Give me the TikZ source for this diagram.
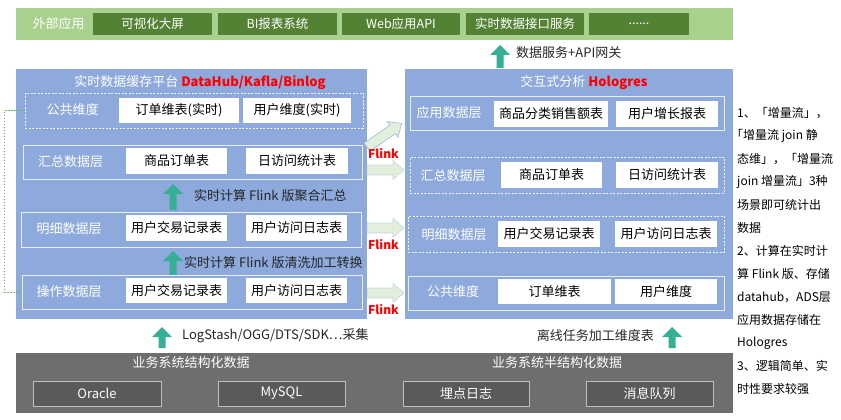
\documentclass[tikz,border=0pt]{standalone}
\usepackage{fontspec}
\setmainfont{Noto Sans CJK SC}
\definecolor{bandgreen}{HTML}{A9D18E}
\definecolor{darkgreen}{HTML}{548235}
\definecolor{panelblue}{HTML}{8EA9DB}
\definecolor{tealc}{HTML}{35B096}
\definecolor{flinkfill}{HTML}{E2EFDA}
\definecolor{flinkedge}{HTML}{A9BFE3}
\definecolor{graybg}{HTML}{6E6E6E}
\definecolor{graybox}{HTML}{5A5A5A}
\definecolor{dotgreen}{HTML}{5DBB63}
\definecolor{txt}{HTML}{262626}
\tikzset{
 f13/.style={font=\fontsize{13}{15}\selectfont},
 f12/.style={font=\fontsize{12.5}{14}\selectfont},
 fn/.style={font=\fontsize{12}{14}\selectfont},
 band/.style={fill=bandgreen, inner sep=0},
 panel/.style={fill=panelblue, inner sep=0},
 graypanel/.style={fill=graybg, inner sep=0},
 rowsolid/.style={draw=white!80!panelblue, line width=0.6pt, inner sep=0},
 rowdash/.style={draw=white!85!panelblue, line width=0.6pt, dash pattern=on 2pt off 1.5pt, inner sep=0},
 wbox/.style={fill=white, inner sep=0, f13, text=black},
 gbox/.style={fill=darkgreen, inner sep=0, f12, text=white},
 dbbox/.style={fill=graybox, draw=white!75!black, line width=0.6pt, inner sep=0, f13, text=white},
 wlabel/.style={text=white, f13, inner sep=0},
 alabel/.style={text=txt, f13, inner sep=0},
 flinklabel/.style={text=red, font=\fontsize{12}{14}\selectfont\bfseries, inner sep=0},
 tealarrow/.style={fill=tealc, draw=none},
 flinkdot/.style={fill=flinkfill, draw=flinkedge, line width=0.6pt, dash pattern=on 1pt off 1pt},
 flinksolid/.style={fill=flinkfill, draw=flinkedge, line width=0.7pt},
}
% style, name, x1, y1, x2, y2, text
\newcommand{\cbox}[7]{\node[#1, minimum width={(#5)-(#3)}, minimum height={(#6)-(#4)}] (#2) at ({((#3)+(#5))/2},{((#4)+(#6))/2}) {#7};}
% x, ytip, ybottom
\newcommand{\tealup}[3]{\fill[tealarrow] ({#1-3.5},#3) -- ({#1-3.5},{#2+10}) -- ({#1-10},{#2+10}) -- (#1,#2) -- ({#1+10},{#2+10}) -- ({#1+3.5},{#2+10}) -- ({#1+3.5},#3) -- cycle;}
% style, x, y, angle, length
\newcommand{\blockarrow}[5]{\begin{scope}[shift={(#2,#3)}, rotate=#4]
 \draw[#1] (0,-5) -- ({#5-11},-5) -- ({#5-11},-9.5) -- (#5,0) -- ({#5-11},9.5) -- ({#5-11},5) -- (0,5) -- cycle;
 \end{scope}}
\begin{document}
\begin{tikzpicture}[x=1pt,y=-1pt]
\useasboundingbox[fill=white] (0,0) rectangle (841,420);

% ---- external applications
\cbox{band}{ext}{16}{8}{733}{40}{}
\node[wlabel] (extlabel) at (58.5,24) {外部应用};
\cbox{gbox}{v1}{93}{13}{212}{35}{可视化大屏}
\cbox{gbox}{v2}{218}{13}{337}{35}{BI报表系统}
\cbox{gbox}{v3}{342}{13}{460}{35}{Web应用API}
\cbox{gbox}{v4}{466}{13}{584}{35}{实时数据接口服务}
\cbox{gbox}{v5}{589}{13}{689}{35}{......}
\tealup{500}{45}{68}
\node[alabel, anchor=west] (apilabel) at (516,53) {数据服务+API网关};

% ---- left panel
\cbox{panel}{L}{16}{69}{367}{319}{}
\node[wlabel] (Ltitle) at (200,83) {实时数据缓存平台 {\color{red}\bfseries DataHub/Kafla/Binlog}};
\cbox{rowdash}{Lr1}{25}{93}{363}{128}{}
\node[wlabel] (Lr1l) at (72.5,110) {公共维度};
\cbox{wbox}{Lr1a}{119}{98}{239}{123}{订单维表(实时)}
\cbox{wbox}{Lr1b}{243}{98}{351}{123}{用户维度(实时)}

\cbox{rowsolid}{Lr2}{23}{145}{362}{179}{}
\node[wlabel] (Lr2l) at (70.5,162) {汇总数据层};
\cbox{wbox}{Lr2a}{126}{148}{227}{174}{商品订单表}
\cbox{wbox}{Lr2b}{246}{148}{348}{174}{日访问统计表}
\tealup{173}{184}{210}
\node[alabel, anchor=west] (agg) at (194,196) {实时计算 Flink 版聚合汇总};

\cbox{rowsolid}{Lr3}{21}{212}{361}{247}{}
\node[wlabel] (Lr3l) at (69,229) {明细数据层};
\cbox{wbox}{Lr3a}{126}{215}{227}{241}{用户交易记录表}
\cbox{wbox}{Lr3b}{246}{215}{347}{241}{用户访问日志表}
\tealup{173}{251}{275}
\node[alabel, anchor=west] (clean) at (184,263) {实时计算 Flink 版清洗加工转换};

\cbox{rowsolid}{Lr4}{22}{275}{362}{309}{}
\node[wlabel] (Lr4l) at (69,292) {操作数据层};
\cbox{wbox}{Lr4a}{126}{278}{227}{303}{用户交易记录表}
\cbox{wbox}{Lr4b}{246}{278}{347}{303}{用户访问日志表}

\draw[dotgreen, line width=0.8pt, dash pattern=on 1.5pt off 1.5pt] (Lr1.west) -- ++(-20,0) |- (Lr4.west);

\tealup{162}{327}{348}
\node[alabel, anchor=west] (collect) at (182,336) {LogStash/OGG/DTS/SDK⋯采集};

% ---- right panel
\cbox{panel}{R}{405}{69}{733}{319}{}
\node[wlabel] (Rtitle) at (584,83) {交互式分析 {\color{red}\bfseries Hologres}};
\cbox{rowsolid}{Rr1}{410}{96}{724}{130}{}
\node[wlabel] (Rr1l) at (449,113) {应用数据层};
\cbox{wbox}{Rr1a}{494}{101}{608}{127}{商品分类销售额表}
\cbox{wbox}{Rr1b}{616}{101}{718}{127}{用户增长报表}

\cbox{rowdash}{Rr2}{410}{157}{724}{193}{}
\node[wlabel] (Rr2l) at (453,176) {汇总数据层};
\cbox{wbox}{Rr2a}{501}{162}{602}{188}{商品订单表}
\cbox{wbox}{Rr2b}{616}{162}{718}{188}{日访问统计表}

\cbox{rowdash}{Rr3}{408}{216}{724}{252}{}
\node[wlabel] (Rr3l) at (454,235) {明细数据层};
\cbox{wbox}{Rr3a}{498}{221}{600}{247}{用户交易记录表}
\cbox{wbox}{Rr3b}{615}{221}{717}{247}{用户访问日志表}

\cbox{rowsolid}{Rr4}{408}{276}{724}{310}{}
\node[wlabel] (Rr4l) at (453,292) {公共维度};
\cbox{wbox}{Rr4a}{498}{279}{611}{304}{订单维表}
\cbox{wbox}{Rr4b}{615}{279}{717}{304}{用户维度}

\tealup{672}{327}{348}
\node[alabel, anchor=east] (offline) at (654,336) {离线任务加工维度表};

% ---- Flink arrows
\blockarrow{flinksolid}{367}{147}{34.4}{42}
\node[flinklabel] (fl1) at (383.5,154) {Flink};
\blockarrow{flinkdot}{367}{170}{0}{37}
\blockarrow{flinkdot}{367}{228}{0}{37}
\node[flinklabel] (fl2) at (383.5,245) {Flink};
\blockarrow{flinkdot}{367}{293}{0}{37}
\node[flinklabel] (fl3) at (383.5,310) {Flink};

% ---- source systems
\cbox{graypanel}{B}{16}{353}{733}{413}{}
\node[wlabel] (Bt1) at (191,363) {业务系统结构化数据};
\node[wlabel] (Bt2) at (557,363) {业务系统半结构化数据};
\cbox{dbbox}{s1}{33}{381}{161}{406}{Oracle}
\cbox{dbbox}{s2}{218}{381}{345}{406}{MySQL}
\cbox{dbbox}{s3}{403}{381}{529}{406}{埋点日志}
\cbox{dbbox}{s4}{586}{381}{713}{406}{消息队列}

% ---- notes
\foreach \t [count=\i] in {{1、「增量流」，},{\kern-6pt「增量流 join 静},{态维」，「增量流},{join 增量流」3种},{场景即可统计出},{数据},{2、计算在实时计},{算 Flink 版、存储},{datahub，ADS层},{应用数据存储在},{Hologres},{3、逻辑简单、实},{时性要求较强}}
 \node[fn, anchor=west, inner sep=0, text=black] (note\i) at (737,{113+23*(\i-1)}) {\t};
\end{tikzpicture}
\end{document}
